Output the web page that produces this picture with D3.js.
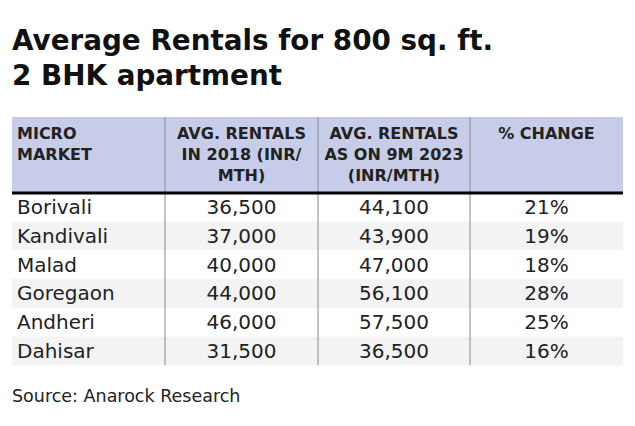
<!DOCTYPE html>
<html><head><meta charset="utf-8">
<script src="https://cdn.jsdelivr.net/npm/d3@7"></script>
<style>body{margin:0;background:#fff}</style>
</head><body>
<svg id="chart" width="635" height="426"></svg>
<script>
const titleLines = ["Average Rentals for 800 sq. ft.", "2 BHK apartment"];
const headers = [["MICRO", "MARKET"], ["AVG. RENTALS", "IN 2018 (INR/", "MTH)"], ["AVG. RENTALS", "AS ON 9M 2023", "(INR/MTH)"], ["% CHANGE"]];
const markets = ["Borivali", "Kandivali", "Malad", "Goregaon", "Andheri", "Dahisar"];
const rent2018 = ["36,500", "37,000", "40,000", "44,000", "46,000", "31,500"];
const rent2023 = ["44,100", "43,900", "47,000", "56,100", "57,500", "36,500"];
const change = ["21%", "19%", "18%", "28%", "25%", "16%"];
const source = "Source: Anarock Research";

const svg = d3.select("#chart");
const font = "'DejaVu Sans', sans-serif";
const colEdges = [12, 165, 318, 470, 623];
const headTop = 117, headBottom = 193, rowH = 28.7;

svg.selectAll("text.title").data(titleLines).enter().append("text")
  .attr("x", 12).attr("y", (d, i) => 50 + i * 35)
  .attr("font-family", font).attr("font-weight", 700).attr("font-size", 27.8)
  .attr("fill", "#111").text(d => d);

svg.append("rect").attr("x", colEdges[0]).attr("y", headTop)
  .attr("width", colEdges[4] - colEdges[0]).attr("height", headBottom - headTop)
  .attr("fill", "#c7cde8");

const y = d3.scaleBand().domain(d3.range(markets.length))
  .range([headBottom, headBottom + rowH * markets.length]);

svg.selectAll("rect.row").data(markets).enter().append("rect")
  .attr("x", colEdges[0]).attr("y", (d, i) => y(i))
  .attr("width", colEdges[4] - colEdges[0]).attr("height", y.bandwidth())
  .attr("fill", (d, i) => i % 2 ? "#f3f3f3" : "#fff");

svg.selectAll("line.col").data(colEdges.slice(1, 4)).enter().append("line")
  .attr("x1", d => d).attr("x2", d => d)
  .attr("y1", headTop).attr("y2", y.range()[1])
  .attr("stroke", "#888").attr("stroke-width", 1);

svg.append("line").attr("x1", colEdges[0]).attr("x2", colEdges[4])
  .attr("y1", headBottom).attr("y2", headBottom)
  .attr("stroke", "#000").attr("stroke-width", 3);

headers.forEach((lines, c) => {
  const center = c > 0;
  const x = center ? (colEdges[c] + colEdges[c + 1]) / 2 : colEdges[0] + 5;
  lines.forEach((t, j) => {
    svg.append("text").attr("x", x).attr("y", 139 + j * 21)
      .attr("text-anchor", center ? "middle" : "start")
      .attr("font-family", font).attr("font-weight", 700).attr("font-size", 16)
      .attr("fill", "#222").text(t);
  });
});

const cols = [markets, rent2018, rent2023, change];
cols.forEach((vals, c) => {
  const center = c > 0;
  const x = center ? (colEdges[c] + colEdges[c + 1]) / 2 : colEdges[0] + 5;
  svg.selectAll("text.c" + c).data(vals).enter().append("text")
    .attr("x", x).attr("y", (d, i) => y(i) + y.bandwidth() / 2 + 7)
    .attr("text-anchor", center ? "middle" : "start")
    .attr("font-family", font).attr("font-size", 20)
    .attr("fill", "#222").text(d => d);
});

svg.append("text").attr("x", 12).attr("y", 402)
  .attr("font-family", font).attr("font-size", 17.5).attr("fill", "#222").text(source);
</script>
</body></html>
